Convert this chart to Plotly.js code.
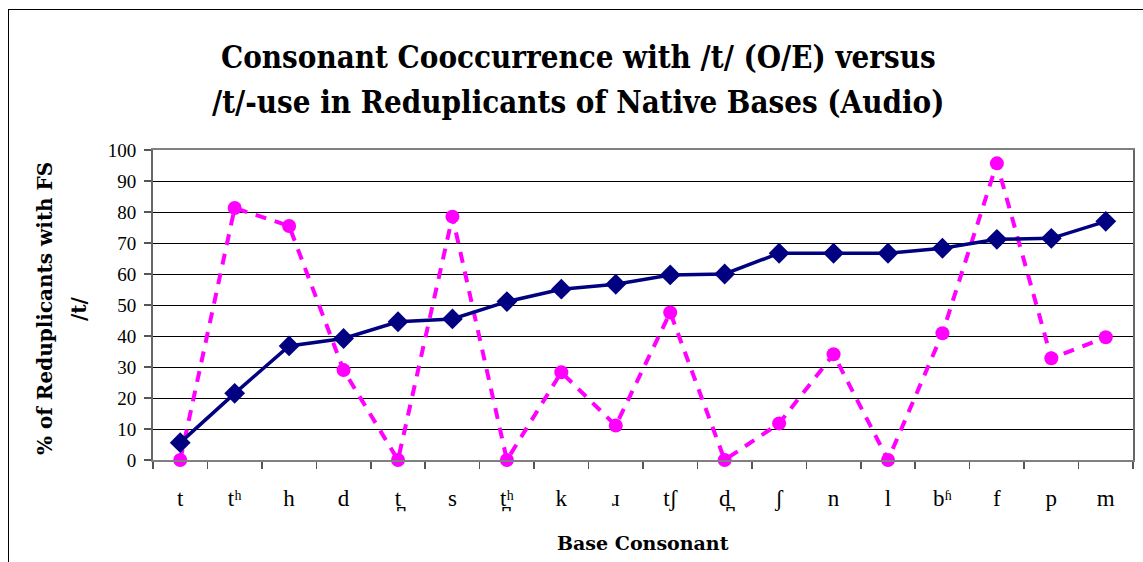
<!DOCTYPE html>
<html>
<head>
<meta charset="utf-8">
<script src="https://cdn.plot.ly/plotly-3.0.1.min.js"></script>
<style>
  html, body { margin: 0; padding: 0; background: #ffffff; }
  #frame { position: absolute; left: 8px; top: 9px; width: 1200px; height: 600px;
           border-left: 1.5px solid #000; border-top: 1.5px solid #000; }
  #chart { position: absolute; left: 0; top: 0; width: 1143px; height: 562px; }
</style>
</head>
<body>
<div id="frame"></div>
<div id="chart"></div>
<script>
const consonants = ["t", "tʰ", "h", "d", "t̪", "s", "t̪ʰ", "k", "ɹ", "tʃ", "d̪", "ʃ", "n", "l", "bʱ", "f", "p", "m"];
const ftUse = [5.6, 21.5, 36.8, 39.2, 44.6, 45.5, 51.1, 55.1, 56.7, 59.7, 60.0, 66.7, 66.7, 66.7, 68.3, 71.2, 71.5, 77.0];
const cooccurrenceOE = [0, 81.3, 75.5, 29.0, 0, 78.5, 0, 28.3, 11.1, 47.6, 0, 11.8, 34.1, 0, 40.9, 95.7, 32.8, 39.6];
const yTicks = [0, 10, 20, 30, 40, 50, 60, 70, 80, 90, 100];
const titleLines = ["Consonant Cooccurrence with /t/ (O/E) versus", "/t/-use in Reduplicants of Native Bases (Audio)"];
const yTitleLines = ["% of Reduplicants with FS", "/t/"];
const xTitle = "Base Consonant";

const serif = "Liberation Serif, DejaVu Serif, serif";
const titleFont = "DejaVu Serif Condensed, DejaVu Serif, serif";
const axisTitleFont = "DejaVu Serif, Liberation Serif, serif";

const traces = [
  {
    x: consonants, y: cooccurrenceOE, type: "scatter", mode: "lines+markers",
    name: "Cooccurrence (O/E)",
    line: { color: "#FF00FF", width: 4, dash: "11px,9px" },
    marker: { symbol: "circle", size: 14, color: "#FF00FF" },
    cliponaxis: false
  },
  {
    x: consonants, y: ftUse, type: "scatter", mode: "lines+markers",
    name: "% with FS /t/",
    line: { color: "#000080", width: 3.5 },
    marker: { symbol: "diamond", size: 16, color: "#000080" },
    cliponaxis: false
  }
];

const W = 980, H = 310;
function px2x(px) { return (px - 153) / W; }
function py2y(py) { return (460 - py) / H; }

const layout = {
  width: 1143, height: 562,
  margin: { l: 153, r: 10, t: 150, b: 102 },
  paper_bgcolor: "rgba(0,0,0,0)",
  plot_bgcolor: "#ffffff",
  showlegend: false,
  xaxis: {
    type: "category",
    range: [-0.5, consonants.length - 0.5],
    tickson: "boundaries",
    ticks: "outside", ticklen: 7, tickcolor: "#555", tickwidth: 1.5,
    showline: true, linecolor: "#808080", linewidth: 2, mirror: true,
    showgrid: false, zeroline: false,
    tickfont: { family: serif, size: 23, color: "#000" },
    ticklabelstandoff: 16
  },
  yaxis: {
    range: [0, 100],
    tickvals: yTicks,
    ticks: "outside", ticklen: 7, tickcolor: "#555", tickwidth: 1.5,
    showline: true, linecolor: "#666", linewidth: 2, mirror: true,
    showgrid: true, gridcolor: "#000", gridwidth: 1,
    zeroline: false,
    tickfont: { family: serif, size: 19, color: "#000" },
    ticklabelstandoff: 4
  },
  annotations: [
    {
      text: titleLines[0],
      xref: "paper", yref: "paper", x: px2x(578), y: py2y(57),
      xanchor: "center", yanchor: "middle", showarrow: false,
      font: { family: titleFont, size: 31, color: "#000", weight: 600 }
    },
    {
      text: titleLines[1],
      xref: "paper", yref: "paper", x: px2x(578), y: py2y(102),
      xanchor: "center", yanchor: "middle", showarrow: false,
      font: { family: titleFont, size: 31, color: "#000", weight: 600 }
    },
    {
      text: "<b>" + yTitleLines[0] + "</b>", textangle: -90,
      xref: "paper", yref: "paper", x: px2x(45), y: py2y(309),
      xanchor: "center", yanchor: "middle", showarrow: false,
      font: { family: axisTitleFont, size: 20, color: "#000" }
    },
    {
      text: "<b>" + yTitleLines[1] + "</b>", textangle: -90,
      xref: "paper", yref: "paper", x: px2x(79), y: py2y(309),
      xanchor: "center", yanchor: "middle", showarrow: false,
      font: { family: axisTitleFont, size: 20, color: "#000" }
    },
    {
      text: "<b>" + xTitle + "</b>",
      xref: "paper", yref: "paper", x: px2x(643), y: py2y(543),
      xanchor: "center", yanchor: "middle", showarrow: false,
      font: { family: axisTitleFont, size: 19, color: "#000" }
    }
  ]
};

Plotly.newPlot("chart", traces, layout, { displayModeBar: false, staticPlot: true });
</script>
</body>
</html>
